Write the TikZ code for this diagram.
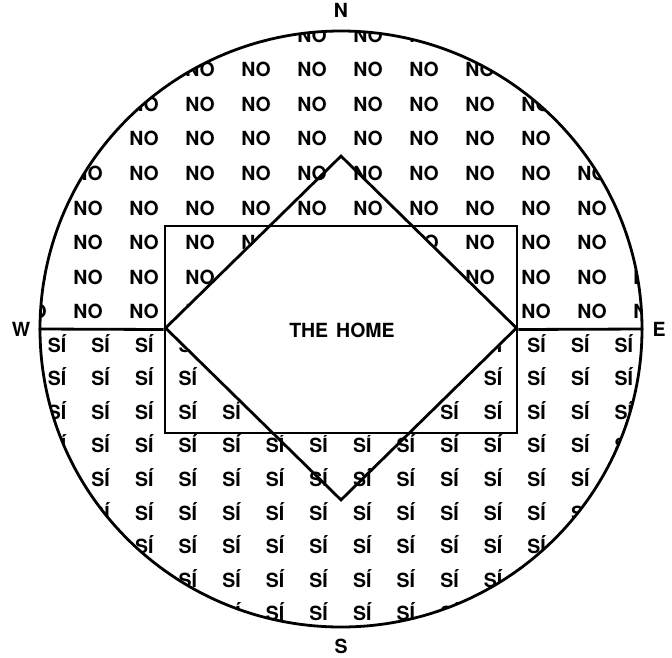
\documentclass[tikz,border=0pt]{standalone}
\usepackage{fontspec}
\setmainfont{TeX Gyre Heros}
\usetikzlibrary{positioning, shapes.geometric, backgrounds}

\begin{document}
\begin{tikzpicture}[
    x=1pt, y=-1pt,
    every node/.style={inner sep=0pt},
    wall/.style={draw, line width=2.8pt},
    tag/.style={font=\fontsize{19.5}{20}\selectfont\bfseries},
    cell/.style={tag, anchor=base}
]
\useasboundingbox (0,0) rectangle (672,657);

% ------------------------
% Outer ring
% ------------------------
\node[wall, ellipse, minimum width=602pt, minimum height=596pt] (globe) at (341,329) {};

% ------------------------
% House and lot
% ------------------------
\node[wall, rectangle, minimum width=352pt, minimum height=207pt] (home) at (341,329.5) {};
\node[wall, diamond, minimum width=352pt, minimum height=345pt] (lot) at (341,328) {};

\draw[wall] (globe.west) -- (home.west);
\draw[wall] (home.east) -- (globe.east);

\node[tag] (homelabel) at (342,330) {THE\hspace{8pt}HOME};

% ------------------------
% Compass points
% ------------------------
\node[tag] (north) [above=12pt of globe.north] {N};
\node[tag] (south) [below=10pt of globe.south] {S};
\node[tag] (west) [left=8pt of globe.west] {W};
\node[tag] (east) [right=9pt of globe.east] {E};

% ------------------------
% NO / SÍ field
% (cells lying wholly under the house are left out)
% ------------------------
\begin{scope}[on background layer]
  \clip (341,329) ellipse [x radius=301pt, y radius=298pt];
  \foreach \r in {0,...,8}
    \foreach \c in {-6,...,5}{
      \pgfmathsetmacro\cx{340+56*(\c+0.5)}
      \pgfmathsetmacro\cy{35+34.6*\r}
      \pgfmathtruncatemacro\hidden{(abs(\cx-341)/176+abs(\cy-328)/172.5<0.85) && (\cy>240) && (\cy<419)}
      \ifnum\hidden=0
        \node[cell] (no-\r-\c) at (\cx, \cy+7) {NO};
      \fi
    }
  \foreach \r in {0,...,8}
    \foreach \c in {-7,...,6}{
      \pgfmathsetmacro\cx{340.5+43.6*(\c+0.5)}
      \pgfmathsetmacro\cy{345+33.6*\r}
      \pgfmathtruncatemacro\hidden{(abs(\cx-341)/176+abs(\cy-328)/172.5<0.85) && (\cy>240) && (\cy<419)}
      \ifnum\hidden=0
        \node[cell] (si-\r-\c) at (\cx, \cy+7) {SÍ};
      \fi
    }
  \begin{scope}
    \clip (home.north west) rectangle (home.south east);
    \fill[white] (lot.north) -- (lot.east) -- (lot.south) -- (lot.west) -- cycle;
  \end{scope}
\end{scope}

\end{tikzpicture}
\end{document}
